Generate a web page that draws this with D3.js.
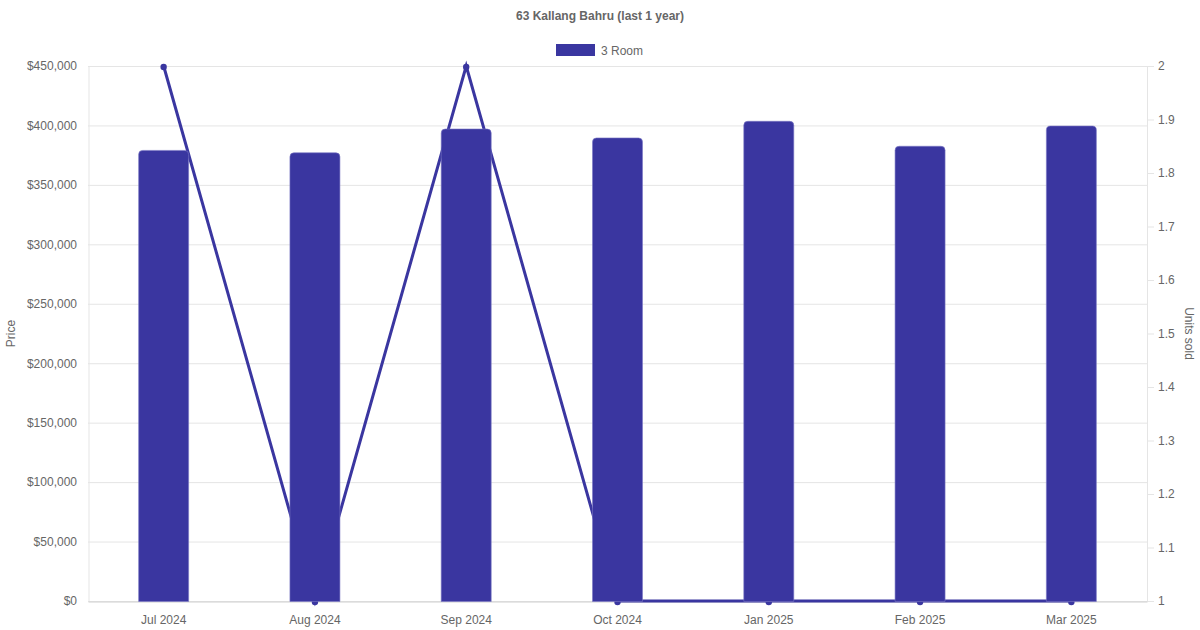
<!DOCTYPE html>
<html>
<head>
<meta charset="utf-8">
<script src="https://cdn.jsdelivr.net/npm/d3@7"></script>
<style>
  body { margin: 0; background: #fff; }
  svg { display: block; font-family: "Liberation Sans", Arial, sans-serif; }
</style>
</head>
<body>
<div id="chart"></div>
<script>
const months = ['Jul 2024', 'Aug 2024', 'Sep 2024', 'Oct 2024', 'Jan 2025', 'Feb 2025', 'Mar 2025']
const prices = [379000, 377000, 397000, 389500, 403500, 382500, 399500]
const unitsSold = [2, 1, 2, 1, 1, 1, 1]
const priceTicks = [0, 50000, 100000, 150000, 200000, 250000, 300000, 350000, 400000, 450000]
const unitTicks = [1, 1.1, 1.2, 1.3, 1.4, 1.5, 1.6, 1.7, 1.8, 1.9, 2]

const width = 1200, height = 630
const margin = { top: 66, right: 53, bottom: 29, left: 88 }
const color = '#3a36a0'
const textColor = '#666'
const gridColor = '#e5e5e5'

const svg = d3.select('#chart')
    .append('svg')
    .attr('width', width)
    .attr('height', height)

const x = d3.scaleBand().domain(months).range([margin.left, width - margin.right])
const y = d3.scaleLinear().domain([0, 450000]).range([height - margin.bottom, margin.top])
const y2 = d3.scaleLinear().domain([1, 2]).range([height - margin.bottom, margin.top])

// title
svg.append('text')
    .attr('x', width / 2)
    .attr('y', 20)
    .attr('text-anchor', 'middle')
    .attr('fill', textColor)
    .attr('font-size', 12)
    .attr('font-weight', 'bold')
    .text('63 Kallang Bahru (last 1 year)')

// legend
svg.append('rect')
    .attr('x', 556).attr('y', 44)
    .attr('width', 39).attr('height', 12)
    .attr('fill', color)
svg.append('text')
    .attr('x', 601).attr('y', 54.5)
    .attr('fill', textColor)
    .attr('font-size', 12)
    .text('3 Room')

// grid lines
svg.append('g')
    .selectAll('line')
    .data(priceTicks)
    .enter().append('line')
    .attr('x1', margin.left)
    .attr('x2', width - margin.right)
    .attr('y1', d => y(d) + 0.5)
    .attr('y2', d => y(d) + 0.5)
    .attr('stroke', gridColor)

// left axis
const leftAxis = svg.append('g')
    .attr('transform', 'translate(' + margin.left + ',0)')
    .call(d3.axisLeft(y).tickValues(priceTicks).tickSize(0).tickPadding(11)
        .tickFormat(d => '$' + d3.format(',')(d)))
leftAxis.select('.domain').attr('stroke', gridColor).attr('transform', 'translate(0.5,0)')
leftAxis.selectAll('text').attr('fill', textColor).attr('font-size', 12)
    .attr('font-family', '"Liberation Sans", Arial, sans-serif')

// right axis
const rightAxis = svg.append('g')
    .attr('transform', 'translate(' + (width - margin.right) + ',0)')
    .call(d3.axisRight(y2).tickValues(unitTicks).tickSize(7).tickPadding(4)
        .tickFormat(d => d3.format('~g')(d)))
rightAxis.select('.domain').attr('stroke', gridColor)
rightAxis.selectAll('line').attr('stroke', gridColor)
rightAxis.selectAll('text').attr('fill', textColor).attr('font-size', 12)
    .attr('font-family', '"Liberation Sans", Arial, sans-serif')

// bottom axis
const bottomAxis = svg.append('g')
    .attr('transform', 'translate(0,' + (height - margin.bottom) + ')')
    .call(d3.axisBottom(x).tickSize(0).tickPadding(14))
bottomAxis.select('.domain').attr('stroke', '#d0d0d0').attr('transform', 'translate(0,0.5)')
bottomAxis.selectAll('text').attr('fill', textColor).attr('font-size', 12)
    .attr('font-family', '"Liberation Sans", Arial, sans-serif')

// axis titles
svg.append('text')
    .attr('transform', 'translate(15,' + ((margin.top + height - margin.bottom) / 2) + ') rotate(-90)')
    .attr('text-anchor', 'middle')
    .attr('fill', textColor)
    .attr('font-size', 12)
    .text('Price')
svg.append('text')
    .attr('transform', 'translate(1185,' + ((margin.top + height - margin.bottom) / 2) + ') rotate(90)')
    .attr('text-anchor', 'middle')
    .attr('fill', textColor)
    .attr('font-size', 12)
    .text('Units sold')

// units sold line (behind bars)
const cx = d => x(d) + x.bandwidth() / 2
const line = d3.line()
    .x((d, i) => cx(months[i]))
    .y(d => y2(d))
svg.append('path')
    .datum(unitsSold)
    .attr('d', line)
    .attr('fill', 'none')
    .attr('stroke', color)
    .attr('stroke-width', 3)
svg.append('g')
    .selectAll('circle')
    .data(unitsSold)
    .enter().append('circle')
    .attr('cx', (d, i) => cx(months[i]))
    .attr('cy', d => y2(d) + 1)
    .attr('r', 3.2)
    .attr('fill', color)

// bars with rounded tops
const barW = 50
const r = 4
svg.append('g')
    .selectAll('path')
    .data(prices)
    .enter().append('path')
    .attr('d', (d, i) => {
        const x0 = cx(months[i]) - barW / 2
        const x1 = x0 + barW
        const top = y(d)
        const bot = y(0) + 0.5
        return 'M' + x0 + ',' + bot + 'V' + (top + r) +
            'Q' + x0 + ',' + top + ' ' + (x0 + r) + ',' + top +
            'H' + (x1 - r) +
            'Q' + x1 + ',' + top + ' ' + x1 + ',' + (top + r) +
            'V' + bot + 'Z'
    })
    .attr('fill', color)
    .attr('stroke', '#7a77c4')
    .attr('stroke-width', 0.6)
</script>
</body>
</html>
